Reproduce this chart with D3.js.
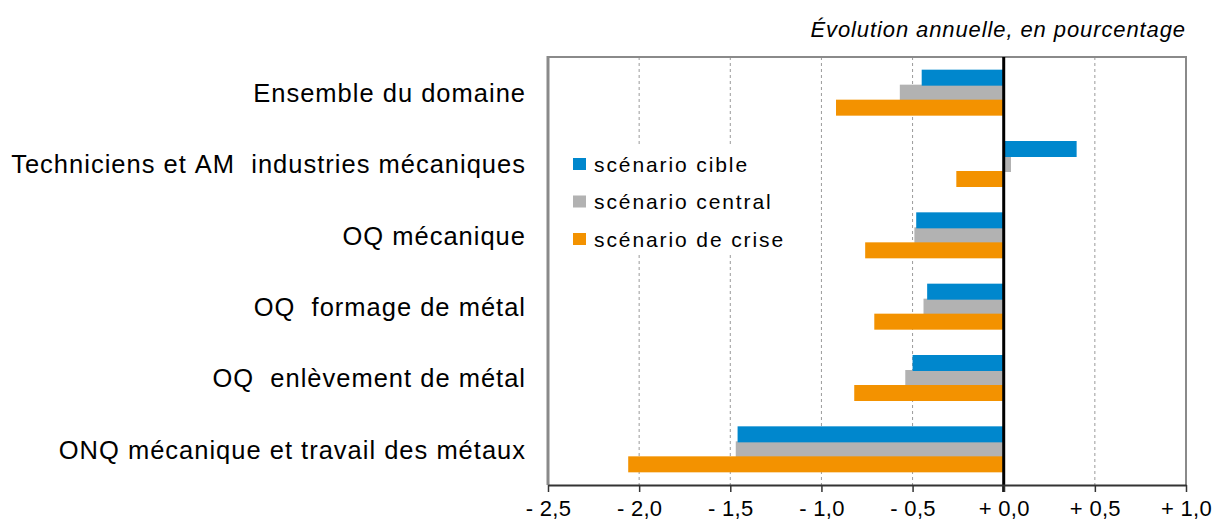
<!DOCTYPE html>
<html lang="fr">
<head>
<meta charset="utf-8">
<script src="https://cdn.jsdelivr.net/npm/d3@7"></script>
<style>
  html, body { margin: 0; padding: 0; background: #fff; }
  svg { display: block; font-family: "Liberation Sans", Arial, sans-serif; }
</style>
</head>
<body>
<svg id="chart" width="1213" height="520"></svg>
<script>
// Métiers de la mécanique et du travail des métaux : évolution annuelle de l'emploi
const categories = [
  "Ensemble du domaine",
  "Techniciens et AM  industries mécaniques",
  "OQ mécanique",
  "OQ  formage de métal",
  "OQ  enlèvement de métal",
  "ONQ mécanique et travail des métaux"
];
const seriesNames = ["scénario cible", "scénario central", "scénario de crise"];
const cible   = [-0.45,  0.40, -0.48, -0.42, -0.50, -1.46];
const central = [-0.57,  0.04, -0.49, -0.44, -0.54, -1.47];
const crise   = [-0.92, -0.26, -0.76, -0.71, -0.82, -2.06];
const tickValues = [-2.5, -2.0, -1.5, -1.0, -0.5, 0.0, 0.5, 1.0];
const title = "Évolution annuelle, en pourcentage";

const colors = ["#0087cd", "#b2b2b2", "#f39200"];
const seriesValues = [cible, central, crise];

const svg = d3.select("#chart");
const plot = { left: 548, right: 1186, top: 57, bottom: 485 };

const x = d3.scaleLinear().domain([-2.5, 1.0]).range([plot.left, plot.right]);
const y = d3.scaleBand().domain(categories).range([plot.top, plot.bottom]).padding(0);

const barH = 16, barStep = 15;
const barTop = (cat, i) => y(cat) + y.bandwidth() / 2 - 23 + i * barStep;

// dashed vertical gridlines
svg.append("g")
  .selectAll("line")
  .data(tickValues.filter(v => v !== 0 && v !== -2.5 && v !== 1.0))
  .join("line")
  .attr("x1", d => x(d)).attr("x2", d => x(d))
  .attr("y1", plot.top).attr("y2", plot.bottom)
  .attr("stroke", "#9a9a9a")
  .attr("stroke-width", 1)
  .attr("stroke-dasharray", "3,3");

// bars: central first, then cible and crise on top
const drawOrder = [1, 0, 2];
drawOrder.forEach(si => {
  svg.append("g")
    .selectAll("rect")
    .data(categories.map((c, k) => ({ c, v: seriesValues[si][k] })))
    .join("rect")
    .attr("x", d => x(Math.min(0, d.v)))
    .attr("width", d => Math.abs(x(d.v) - x(0)))
    .attr("y", d => barTop(d.c, si))
    .attr("height", barH)
    .attr("fill", colors[si]);
});

// plot frame (left, top, right)
svg.append("line")
  .attr("x1", plot.left).attr("x2", plot.left)
  .attr("y1", plot.top - 1).attr("y2", plot.bottom)
  .attr("stroke", "#8a8a8a").attr("stroke-width", 3);
svg.append("line")
  .attr("x1", plot.left).attr("x2", plot.right + 1)
  .attr("y1", plot.top).attr("y2", plot.top)
  .attr("stroke", "#8a8a8a").attr("stroke-width", 2);
svg.append("line")
  .attr("x1", plot.right).attr("x2", plot.right)
  .attr("y1", plot.top).attr("y2", plot.bottom)
  .attr("stroke", "#8a8a8a").attr("stroke-width", 2);

// zero line
svg.append("line")
  .attr("x1", x(0)).attr("x2", x(0))
  .attr("y1", plot.top).attr("y2", plot.bottom + 7)
  .attr("stroke", "#000").attr("stroke-width", 3);

// x axis
const fmt = v => (v < 0 ? "- " : "+ ") + Math.abs(v).toFixed(1).replace(".", ",");
const axis = svg.append("g")
  .attr("transform", `translate(0,${plot.bottom})`)
  .call(d3.axisBottom(x).tickValues(tickValues).tickFormat(fmt).tickSize(7).tickPadding(8).tickSizeOuter(0));
axis.select(".domain").attr("stroke", "#333").attr("stroke-width", 2);
axis.selectAll(".tick line").attr("stroke", "#333").attr("stroke-width", 1.5);
axis.selectAll(".tick text")
  .attr("fill", "#000")
  .style("font-size", "22px")
  .style("letter-spacing", "0.3px")
  .style("font-family", "'Liberation Sans', Arial, sans-serif");

// category labels
svg.append("g")
  .selectAll("text")
  .data(categories)
  .join("text")
  .attr("x", 526)
  .attr("y", d => y(d) + y.bandwidth() / 2)
  .attr("dy", "0.36em")
  .attr("text-anchor", "end")
  .style("font-size", "25.5px")
  .style("letter-spacing", "1px")
  .attr("fill", "#000")
  .text(d => d.replace(/ /g, "\u00a0"));

// legend
const legend = svg.append("g");
legend.append("rect")
  .attr("x", 562).attr("y", 146).attr("width", 240).attr("height", 108)
  .attr("fill", "#fff");
seriesNames.forEach((name, i) => {
  const cy = 164 + i * 37.5;
  legend.append("rect")
    .attr("x", 573).attr("y", cy - 6).attr("width", 13).attr("height", 12)
    .attr("fill", colors[i]);
  legend.append("text")
    .attr("x", 594).attr("y", cy)
    .attr("dy", "0.36em")
    .style("font-size", "21px")
    .style("letter-spacing", "1.9px")
    .attr("fill", "#000")
    .text(name);
});

// title
svg.append("text")
  .attr("x", 1186).attr("y", 37)
  .attr("text-anchor", "end")
  .style("font-size", "22px")
  .style("font-style", "italic")
  .style("letter-spacing", "0.9px")
  .attr("fill", "#000")
  .text(title);
</script>
</body>
</html>
